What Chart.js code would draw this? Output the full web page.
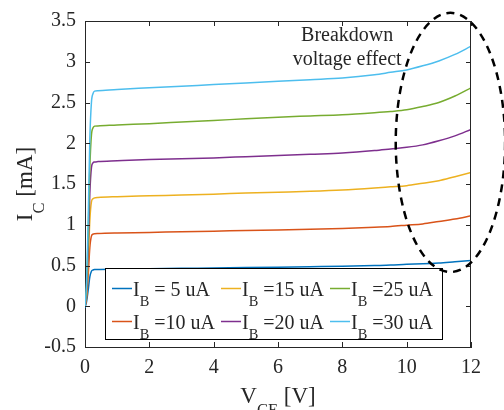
<!DOCTYPE html>
<html>
<head>
<meta charset="utf-8">
<script src="https://cdn.jsdelivr.net/npm/chart.js@4/dist/chart.umd.min.js"></script>
<style>
  html, body { margin: 0; padding: 0; background: #fff; }
  #wrap { width: 504px; height: 410px; }
</style>
</head>
<body>
<div id="wrap"><canvas id="bjt"></canvas></div>
<script>
// V_CE sweep [V]
const vce = [0, 0.05, 0.1, 0.15, 0.2, 0.25, 0.3, 0.4, 1, 2, 3, 4, 5, 6, 7, 8, 9, 9.5, 10, 10.5, 11, 11.5, 12];

// I_C [mA] for each base current
const ib5  = [-0.02, 0.06, 0.2, 0.36, 0.43, 0.445, 0.45, 0.452, 0.455, 0.46, 0.465, 0.47, 0.475, 0.48, 0.485, 0.49, 0.5, 0.505, 0.515, 0.52, 0.53, 0.545, 0.56];
const ib10 = [0, 0.1, 0.38, 0.72, 0.86, 0.885, 0.89, 0.893, 0.9, 0.905, 0.915, 0.92, 0.93, 0.935, 0.945, 0.955, 0.97, 0.98, 0.995, 1.01, 1.04, 1.07, 1.11];
const ib15 = [0, 0.15, 0.55, 1.05, 1.28, 1.32, 1.33, 1.335, 1.345, 1.355, 1.365, 1.375, 1.39, 1.4, 1.41, 1.425, 1.45, 1.465, 1.48, 1.51, 1.54, 1.59, 1.64];
const ib20 = [0, 0.2, 0.72, 1.38, 1.7, 1.76, 1.77, 1.775, 1.785, 1.8, 1.81, 1.82, 1.835, 1.85, 1.865, 1.88, 1.91, 1.93, 1.95, 1.98, 2.03, 2.09, 2.17];
const ib25 = [0, 0.25, 0.9, 1.7, 2.1, 2.19, 2.21, 2.213, 2.225, 2.24, 2.26, 2.28, 2.3, 2.32, 2.335, 2.35, 2.375, 2.39, 2.41, 2.45, 2.5, 2.58, 2.68];
const ib30 = [0, 0.3, 1.08, 2.05, 2.5, 2.61, 2.64, 2.645, 2.66, 2.68, 2.7, 2.72, 2.74, 2.76, 2.78, 2.8, 2.84, 2.87, 2.9, 2.95, 3.01, 3.09, 3.19];

const seriesLabels = ['I_{B} = 5 uA', 'I_{B} =10 uA', 'I_{B} =15 uA', 'I_{B} =20 uA', 'I_{B} =25 uA', 'I_{B} =30 uA'];
const seriesColors = ['#0072BD', '#D95319', '#EDB120', '#7E2F8E', '#77AC30', '#4DBEEE'];
const seriesValues = [ib5, ib10, ib15, ib20, ib25, ib30];

const xTicks = [0, 2, 4, 6, 8, 10, 12];
const yTicks = [-0.5, 0, 0.5, 1, 1.5, 2, 2.5, 3, 3.5];

const SERIF = '"Liberation Serif", "Times New Roman", serif';
const INK = '#262626';

// split "I_{B} =10 uA" into normal / subscript pieces
function parseSub(str) {
  const parts = [];
  const re = /_\{([^}]*)\}/g;
  let last = 0, m;
  while ((m = re.exec(str)) !== null) {
    if (m.index > last) parts.push({ t: str.slice(last, m.index), sub: false });
    parts.push({ t: m[1], sub: true });
    last = re.lastIndex;
  }
  if (last < str.length) parts.push({ t: str.slice(last), sub: false });
  return parts;
}

function subWidth(ctx, parts, size) {
  let w = 0;
  parts.forEach(p => {
    ctx.font = (p.sub ? size * 0.72 : size) + 'px ' + SERIF;
    w += ctx.measureText(p.t).width;
  });
  return w;
}

// draws left-aligned at x, baseline y
function drawSub(ctx, str, x, y, size) {
  const parts = parseSub(str);
  ctx.textBaseline = 'alphabetic';
  ctx.textAlign = 'left';
  parts.forEach(p => {
    const fs = p.sub ? size * 0.72 : size;
    ctx.font = fs + 'px ' + SERIF;
    ctx.fillText(p.t, x, p.sub ? y + size * 0.5 : y);
    x += ctx.measureText(p.t).width;
  });
}

const frame = {
  id: 'frame',
  afterDatasetsDraw(chart) {
    const { ctx, chartArea: a, scales: { x, y } } = chart;
    ctx.save();

    // box + inward ticks on all sides
    ctx.strokeStyle = INK;
    ctx.lineWidth = 1;
    ctx.beginPath();
    ctx.moveTo(a.left, a.top + 0.5); ctx.lineTo(a.right, a.top + 0.5);
    ctx.moveTo(a.right - 0.5, a.top); ctx.lineTo(a.right - 0.5, a.bottom);
    xTicks.forEach(v => {
      const px = Math.round(x.getPixelForValue(v)) + 0.5;
      ctx.moveTo(px, a.bottom); ctx.lineTo(px, a.bottom - 5);
      ctx.moveTo(px, a.top); ctx.lineTo(px, a.top + 5);
    });
    yTicks.forEach(v => {
      const py = Math.round(y.getPixelForValue(v)) + 0.5;
      ctx.moveTo(a.left, py); ctx.lineTo(a.left + 5, py);
      ctx.moveTo(a.right, py); ctx.lineTo(a.right - 5, py);
    });
    ctx.stroke();

    // legend box, 3 columns x 2 rows (column-major)
    const lx = 105, ly = 268, lw = 337, lh = 71;
    ctx.fillStyle = '#fff';
    ctx.fillRect(lx, ly, lw, lh);
    ctx.strokeStyle = '#000';
    ctx.strokeRect(lx + 0.5, ly + 0.5, lw, lh);
    chart.data.datasets.forEach((ds, i) => {
      const col = Math.floor(i / 2), row = i % 2;
      const sx = 112 + col * 109;
      const sy = 288.5 + row * 33;
      ctx.strokeStyle = ds.borderColor;
      ctx.lineWidth = 1.5;
      ctx.beginPath();
      ctx.moveTo(sx, sy); ctx.lineTo(sx + 20, sy);
      ctx.stroke();
      ctx.fillStyle = INK;
      drawSub(ctx, ds.label, sx + 21, sy + 7, 20);
    });
    ctx.restore();
  },
  afterDraw(chart) {
    const { ctx, chartArea: a, scales: { x, y } } = chart;
    ctx.save();
    ctx.fillStyle = INK;

    // x title
    const xt = 'V_{CE} [V]';
    const xw = subWidth(ctx, parseSub(xt), 23);
    drawSub(ctx, xt, (a.left + a.right) / 2 - xw / 2, 403, 23);

    // y title, rotated
    const yt = 'I_{C} [mA]';
    const yw = subWidth(ctx, parseSub(yt), 23);
    ctx.translate(32, 184);
    ctx.rotate(-Math.PI / 2);
    drawSub(ctx, yt, -yw / 2, 0, 23);
    ctx.setTransform(1, 0, 0, 1, 0, 0);

    // annotation text
    ctx.font = '20px ' + SERIF;
    ctx.textAlign = 'center';
    ctx.textBaseline = 'middle';
    ctx.fillText('Breakdown', x.getPixelForValue(8.15), y.getPixelForValue(3.32));
    ctx.fillText('voltage effect', x.getPixelForValue(8.15), y.getPixelForValue(3.03));

    // dashed ellipse around the breakdown region
    const cx = x.getPixelForValue(11.36), cy = y.getPixelForValue(2.01);
    const rx = x.getPixelForValue(11.36 + 1.7) - cx;
    const ry = cy - y.getPixelForValue(2.01 + 1.59);
    ctx.strokeStyle = '#000';
    ctx.lineWidth = 2.5;
    ctx.setLineDash([8, 6]);
    ctx.beginPath();
    ctx.ellipse(cx, cy, rx, ry, 0, 0, Math.PI * 2);
    ctx.stroke();
    ctx.restore();
  }
};

new Chart(document.getElementById('bjt'), {
  type: 'line',
  data: {
    labels: vce,
    datasets: seriesValues.map((vals, i) => ({
      label: seriesLabels[i],
      data: vce.map((v, k) => ({ x: v, y: vals[k] })),
      borderColor: seriesColors[i],
      borderWidth: 1.5,
      pointRadius: 0,
      fill: false,
      cubicInterpolationMode: 'monotone',
      order: 6 - i
    }))
  },
  options: {
    responsive: true,
    maintainAspectRatio: false,
    animation: false,
    layout: { padding: { top: 18, right: 33, left: 0, bottom: 0 } },
    plugins: { legend: { display: false }, tooltip: { enabled: false } },
    scales: {
      x: {
        type: 'linear',
        min: 0, max: 12,
        afterFit: s => { s.height = 63; },
        afterBuildTicks: s => { s.ticks = xTicks.map(v => ({ value: v })); },
        grid: { display: false, drawTicks: false },
        border: { display: true, color: INK, width: 1 },
        ticks: { color: INK, font: { family: SERIF, size: 20 }, padding: 9, maxRotation: 0, callback: v => String(v) }
      },
      y: {
        type: 'linear',
        min: -0.5, max: 3.5,
        afterFit: s => { s.width = 85; },
        afterBuildTicks: s => { s.ticks = yTicks.map(v => ({ value: v })); },
        grid: { display: false, drawTicks: false },
        border: { display: true, color: INK, width: 1 },
        ticks: { color: INK, font: { family: SERIF, size: 20 }, padding: 9, callback: v => String(v) }
      }
    }
  },
  plugins: [frame]
});
</script>
</body>
</html>
